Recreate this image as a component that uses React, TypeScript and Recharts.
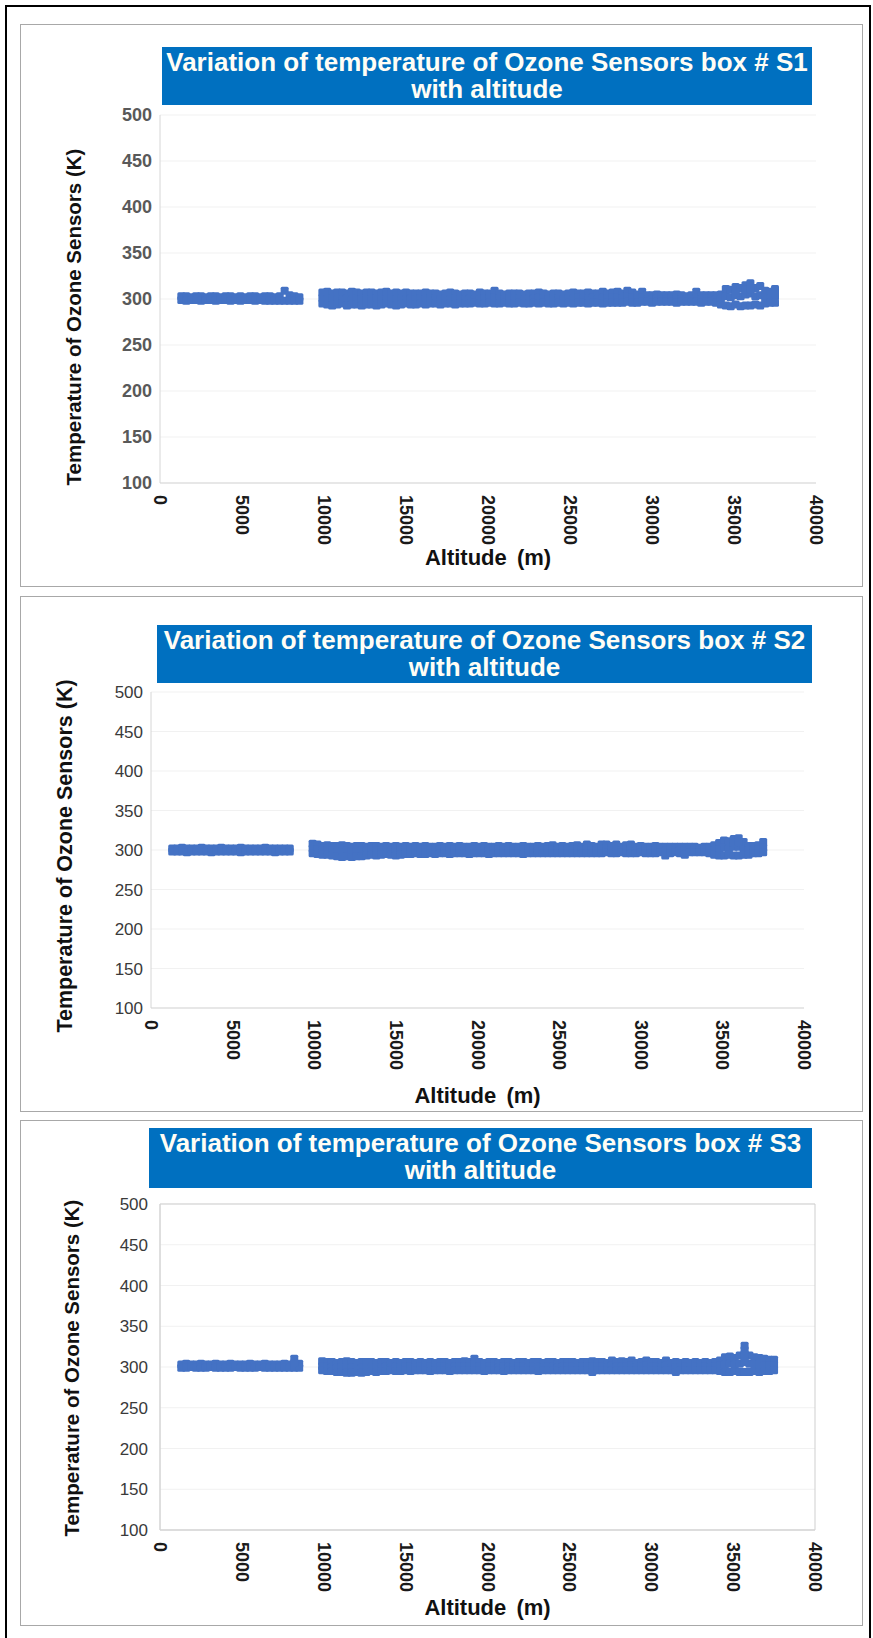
import React from 'react';
import { ScatterChart, Scatter, XAxis, YAxis, CartesianGrid, ReferenceArea } from 'recharts';

// altitude grid (m): low segment and high segment
const altA = [1300, 1600, 1900, 2200, 2500, 2800, 3100, 3400, 3700, 4000, 4300, 4600, 4900, 5200, 5500, 5800, 6100, 6400, 6700, 7000, 7300, 7600, 7900, 8200, 8500];
const altB = [
    9900, 10200, 10500, 10800, 11100, 11400, 11700, 12000, 12300, 12600,
    12900, 13200, 13500, 13800, 14100, 14400, 14700, 15000, 15300, 15600,
    15900, 16200, 16500, 16800, 17100, 17400, 17700, 18000, 18300, 18600,
    18900, 19200, 19500, 19800, 20100, 20400, 20700, 21000, 21300, 21600,
    21900, 22200, 22500, 22800, 23100, 23400, 23700, 24000, 24300, 24600,
    24900, 25200, 25500, 25800, 26100, 26400, 26700, 27000, 27300, 27600,
    27900, 28200, 28500, 28800, 29100, 29400, 29700, 30000, 30300, 30600,
    30900, 31200, 31500, 31800, 32100, 32400, 32700, 33000, 33300, 33600,
    33900, 34200, 34500, 34800, 35100, 35400, 35700, 36000, 36300, 36600,
    36900, 37200, 37500,
];

const xTicks = [0, 5000, 10000, 15000, 20000, 25000, 30000, 35000, 40000];
const yTicks = [100, 150, 200, 250, 300, 350, 400, 450, 500];

// ---- S1 (K) ----
const s1HiA = [303, 303, 302, 303, 303, 302, 303, 303, 302, 303, 303, 302, 303, 302, 303, 303, 302, 303, 303, 302, 303, 309, 304, 303, 302];
const s1LoA = [299, 298, 299, 299, 298, 299, 299, 298, 299, 299, 298, 299, 298, 299, 299, 298, 299, 298, 298, 298, 298, 298, 298, 298, 298];
const s1HiB = [
    307, 308, 306, 307, 307, 306, 308, 307, 306, 307,
    307, 306, 307, 308, 306, 307, 306, 307, 306, 306,
    306, 307, 306, 306, 305, 306, 307, 306, 305, 306,
    306, 305, 307, 306, 306, 309, 306, 305, 306, 306,
    306, 305, 306, 306, 307, 306, 305, 306, 306, 305,
    306, 307, 306, 306, 307, 306, 306, 308, 306, 307,
    308, 306, 309, 307, 305, 308, 304, 304, 305, 304,
    304, 304, 305, 304, 303, 304, 308, 304, 304, 304,
    304, 305, 311, 310, 313, 312, 315, 317, 312, 314,
    309, 308, 311,
];
const s1MidB = [
    301, 300, 301, 300, 300, 301, 300, 301, 300, 301,
    300, 301, 300, 300, 301, 300, 301, 300, 301, 300,
    301, 300, 301, 301, 300, 301, 300, 301, 301, 300,
    301, 301, 300, 301, 301, 302, 301, 300, 301, 301,
    301, 300, 301, 301, 302, 301, 300, 301, 301, 300,
    301, 301, 302, 301, 301, 302, 301, 302, 301, 302,
    302, 301, 303, 302, 301, 302, 300, 300, 301, 300,
    300, 301, 300, 300, 300, 301, 302, 300, 300, 301,
    300, 301, 303, 302, 304, 303, 305, 306, 303, 304,
    302, 301, 303,
];
const s1LoB = [
    295, 294, 293, 294, 295, 293, 294, 294, 293, 294,
    294, 293, 294, 295, 294, 293, 294, 295, 294, 294,
    295, 294, 295, 295, 294, 295, 295, 294, 295, 295,
    295, 296, 295, 295, 296, 295, 295, 296, 295, 295,
    296, 295, 295, 296, 295, 296, 295, 295, 296, 295,
    296, 295, 296, 296, 295, 296, 296, 295, 296, 296,
    296, 296, 297, 296, 296, 297, 297, 296, 297, 297,
    297, 297, 296, 297, 297, 297, 297, 296, 297, 297,
    296, 294, 293, 292, 294, 292, 293, 293, 294, 293,
    295, 296, 296,
];
const s1PeakAlt = [35100, 35700, 36000, 37500];
const s1PeakT = [307, 310, 311, 306];

// ---- S2 (K) ----
const s2HiA = [302, 302, 303, 302, 302, 302, 303, 302, 302, 302, 303, 302, 302, 302, 303, 302, 302, 302, 302, 303, 302, 302, 302, 302, 302];
const s2LoA = [298, 298, 298, 297, 298, 298, 298, 298, 297, 298, 298, 298, 298, 298, 297, 298, 298, 298, 298, 298, 298, 297, 298, 298, 298];
const s2HiB = [
    308, 307, 305, 306, 305, 305, 306, 305, 304, 305,
    305, 304, 305, 305, 304, 305, 304, 305, 304, 305,
    304, 305, 304, 305, 304, 304, 305, 304, 305, 304,
    305, 304, 304, 305, 304, 305, 304, 304, 305, 304,
    305, 304, 304, 305, 304, 304, 305, 304, 305, 306,
    304, 305, 304, 305, 306, 304, 307, 305, 304, 307,
    307, 305, 307, 304, 306, 307, 304, 305, 304, 304,
    305, 304, 304, 304, 304, 304, 304, 304, 304, 303,
    304, 304, 306, 309, 312, 311, 314, 315, 310, 305,
    305, 306, 310,
];
const s2MidB = [
    302, 301, 300, 300, 299, 299, 298, 299, 298, 299,
    299, 299, 300, 299, 300, 300, 299, 300, 300, 300,
    300, 300, 300, 301, 300, 300, 301, 300, 300, 301,
    300, 300, 300, 301, 300, 300, 300, 300, 301, 300,
    300, 300, 300, 301, 300, 300, 300, 300, 301, 301,
    300, 301, 300, 300, 301, 300, 302, 300, 300, 302,
    302, 300, 301, 300, 301, 302, 300, 300, 300, 300,
    300, 300, 299, 300, 300, 300, 300, 300, 300, 300,
    301, 300, 300, 301, 303, 302, 304, 304, 302, 300,
    300, 301, 303,
];
const s2LoB = [
    296, 295, 294, 294, 293, 292, 291, 292, 291, 292,
    292, 293, 294, 293, 294, 295, 294, 293, 294, 295,
    295, 296, 295, 295, 296, 295, 296, 296, 295, 296,
    296, 296, 295, 296, 296, 296, 295, 296, 296, 296,
    296, 296, 296, 295, 296, 296, 296, 296, 296, 296,
    296, 296, 296, 296, 296, 296, 296, 296, 296, 296,
    297, 296, 296, 297, 296, 296, 296, 297, 296, 296,
    296, 297, 293, 296, 297, 296, 294, 297, 297, 297,
    297, 296, 294, 293, 293, 294, 293, 293, 294, 294,
    296, 296, 297,
];
const s2PeakAlt = [35700, 36000];
const s2PeakT = [309, 310];

// ---- S3 (K) ----
const s3HiA = [303, 304, 303, 303, 304, 303, 303, 304, 303, 303, 304, 303, 303, 303, 304, 303, 303, 304, 303, 303, 303, 304, 303, 310, 304];
const s3LoA = [299, 299, 300, 299, 299, 299, 300, 299, 299, 299, 299, 300, 299, 299, 299, 299, 300, 299, 299, 299, 299, 299, 299, 299, 299];
const s3HiB = [
    307, 306, 306, 305, 306, 307, 306, 305, 306, 306,
    306, 305, 306, 306, 305, 306, 305, 306, 306, 305,
    306, 305, 306, 305, 306, 306, 305, 306, 306, 307,
    306, 310, 306, 305, 306, 306, 305, 306, 306, 305,
    306, 306, 305, 306, 306, 305, 306, 306, 305, 306,
    306, 306, 305, 306, 306, 307, 306, 306, 305, 308,
    306, 307, 306, 308, 305, 306, 308, 306, 306, 305,
    308, 305, 306, 305, 306, 305, 306, 305, 306, 305,
    306, 308, 312, 313, 311, 314, 326, 314, 312, 311,
    310, 309, 309,
];
const s3MidB = [
    301, 301, 300, 300, 300, 300, 299, 300, 299, 300,
    300, 300, 300, 301, 300, 301, 300, 301, 301, 300,
    301, 300, 301, 300, 301, 301, 300, 301, 301, 301,
    301, 303, 301, 300, 301, 301, 300, 301, 301, 300,
    301, 301, 300, 301, 301, 300, 301, 301, 300, 301,
    301, 301, 300, 301, 301, 301, 301, 301, 300, 302,
    301, 301, 301, 302, 300, 301, 302, 301, 301, 300,
    302, 300, 300, 300, 301, 300, 301, 300, 301, 300,
    301, 302, 303, 304, 303, 304, 306, 304, 303, 303,
    302, 302, 302,
];
const s3LoB = [
    296, 295, 295, 294, 294, 293, 293, 294, 293, 294,
    295, 294, 295, 295, 296, 295, 295, 296, 295, 296,
    296, 296, 295, 296, 296, 296, 295, 296, 296, 296,
    296, 296, 296, 295, 296, 296, 296, 295, 296, 296,
    296, 296, 296, 296, 295, 296, 296, 296, 296, 296,
    296, 296, 296, 296, 296, 294, 296, 296, 296, 296,
    296, 296, 296, 296, 296, 296, 296, 296, 296, 296,
    296, 296, 294, 296, 296, 296, 296, 296, 296, 296,
    296, 295, 294, 294, 295, 294, 294, 294, 295, 294,
    295, 295, 296,
];
const s3PeakAlt = [8200, 35700, 35700, 35700];
const s3PeakT = [305, 311, 316, 321];

const FONT = '"Liberation Sans", Arial, sans-serif';
const BLUE = '#4472C4';

function buildPoints(hiA: number[], loA: number[], hiB: number[], midB: number[], loB: number[], pAlt: number[], pT: number[]) {
    const pts: { x: number; y: number }[] = [];
    altA.forEach((a, i) => {
        pts.push({ x: a, y: hiA[i] });
        pts.push({ x: a, y: loA[i] });
    });
    altB.forEach((a, i) => {
        pts.push({ x: a, y: hiB[i] });
        pts.push({ x: a, y: midB[i] });
        pts.push({ x: a, y: loB[i] });
    });
    pAlt.forEach((a, i) => pts.push({ x: a, y: pT[i] }));
    return pts;
}

const panels = [
    {
        id: 'S1',
        points: buildPoints(s1HiA, s1LoA, s1HiB, s1MidB, s1LoB, s1PeakAlt, s1PeakT),
        top: 24, bottom: 587,
        title: { left: 162, top: 47, width: 650, height: 58 },
        x0: 160, x1: 816, y500: 115, y100: 483,
        yTick: { fontSize: 18, fontWeight: 700, fill: '#595959' }, yGap: 8,
        yLabelX: 73, yLabelCy: 317, yLabelSize: 20.5, xLabelY: 557,
        frame: false,
    },
    {
        id: 'S2',
        points: buildPoints(s2HiA, s2LoA, s2HiB, s2MidB, s2LoB, s2PeakAlt, s2PeakT),
        top: 596, bottom: 1112,
        title: { left: 157, top: 625, width: 655, height: 58 },
        x0: 151, x1: 804, y500: 692, y100: 1008,
        yTick: { fontSize: 17, fontWeight: 400, fill: '#3a3a3a' }, yGap: 8,
        yLabelX: 65, yLabelCy: 856, yLabelSize: 21.5, xLabelY: 1095,
        frame: false,
    },
    {
        id: 'S3',
        points: buildPoints(s3HiA, s3LoA, s3HiB, s3MidB, s3LoB, s3PeakAlt, s3PeakT),
        top: 1120, bottom: 1626,
        title: { left: 149, top: 1128, width: 663, height: 60 },
        x0: 160, x1: 815, y500: 1204, y100: 1530,
        yTick: { fontSize: 17, fontWeight: 400, fill: '#3a3a3a' }, yGap: 12,
        yLabelX: 71, yLabelCy: 1368, yLabelSize: 20.5, xLabelY: 1607,
        frame: true,
    },
];

const XTick = (props: any) => {
    const { x, y, payload } = props;
    return (
        <text
            x={x}
            y={y}
            transform={`rotate(90 ${x} ${y})`}
            textAnchor="start"
            dominantBaseline="central"
            fontFamily={FONT}
            fontSize={18}
            fontWeight={700}
            fill="#1a1a1a"
        >
            {payload.value}
        </text>
    );
};

const Marker = (props: any) => {
    const { cx, cy } = props;
    if (cx == null || cy == null) return null;
    return <rect x={cx - 4} y={cy - 4} width={8} height={8} rx={1.5} fill={BLUE} />;
};

function SensorPanel({ p }: { p: (typeof panels)[number] }) {
    const W = 873;
    const H = p.bottom - p.top;
    const xAxisH = 70;
    const mTop = p.y500 - p.top;
    const mBottom = H - (p.y100 - p.top) - xAxisH;
    const midX = (p.x0 + p.x1) / 2;

    return (
        <>
            <div
                style={{
                    position: 'absolute', left: 20, top: p.top, width: 843, height: H,
                    border: '1px solid #a8a8a8', boxSizing: 'border-box', background: '#fff',
                }}
            />
            <div style={{ position: 'absolute', left: 0, top: p.top, width: W, height: H }}>
                <ScatterChart width={W} height={H} margin={{ top: mTop, right: W - p.x1, bottom: mBottom, left: 0 }}>
                    <CartesianGrid vertical={false} stroke="#f1f1f1" />
                    {p.frame && (
                        <ReferenceArea x1={0} x2={40000} y1={100} y2={500} fill="none" stroke="#cfcfcf" strokeWidth={1} />
                    )}
                    <XAxis
                        type="number"
                        dataKey="x"
                        domain={[0, 40000]}
                        ticks={xTicks}
                        height={xAxisH}
                        axisLine={{ stroke: '#d6d6d6' }}
                        tickLine={false}
                        tickSize={4}
                        tickMargin={8}
                        tick={<XTick />}
                        interval={0}
                        label={{
                            content: () => (
                                <text x={midX} y={p.xLabelY - p.top} textAnchor="middle" dominantBaseline="central"
                                    fontFamily={FONT} fontSize={22} fontWeight={700} fill="#111" wordSpacing={4}>
                                    Altitude (m)
                                </text>
                            ),
                        }}
                    />
                    <YAxis
                        type="number"
                        dataKey="y"
                        domain={[100, 500]}
                        ticks={yTicks}
                        width={p.x0}
                        axisLine={{ stroke: '#d6d6d6' }}
                        tickLine={false}
                        tickSize={0}
                        tickMargin={p.yGap}
                        tick={{ ...p.yTick, fontFamily: FONT }}
                        interval={0}
                        label={{
                            content: () => {
                                const cy = p.yLabelCy - p.top;
                                return (
                                    <text x={p.yLabelX} y={cy} transform={`rotate(-90 ${p.yLabelX} ${cy})`}
                                        textAnchor="middle" dominantBaseline="central"
                                        fontFamily={FONT} fontSize={p.yLabelSize} fontWeight={700} fill="#111">
                                        Temperature of Ozone Sensors (K)
                                    </text>
                                );
                            },
                        }}
                    />
                    <Scatter data={p.points} fill={BLUE} shape={<Marker />} isAnimationActive={false} />
                </ScatterChart>
            </div>
            <div
                style={{
                    position: 'absolute', left: p.title.left, top: p.title.top,
                    width: p.title.width, height: p.title.height,
                    background: '#0070C0', color: '#fffdf5', fontFamily: FONT, fontWeight: 700,
                    fontSize: 26, lineHeight: '27px', textAlign: 'center', paddingTop: 2, boxSizing: 'border-box',
                    whiteSpace: 'nowrap',
                }}
            >
                Variation of temperature of Ozone Sensors box # {p.id}
                <br />
                with altitude
            </div>
        </>
    );
}

export default function App() {
    return (
        <div style={{ position: 'absolute', left: 0, top: 0, width: 873, height: 1638, background: '#fff', overflow: 'hidden' }}>
            <div style={{ position: 'absolute', left: 5, top: 5, width: 866, height: 1700, border: '2px solid #000', boxSizing: 'border-box' }} />
            {panels.map(p => (
                <SensorPanel key={p.id} p={p} />
            ))}
        </div>
    );
}
